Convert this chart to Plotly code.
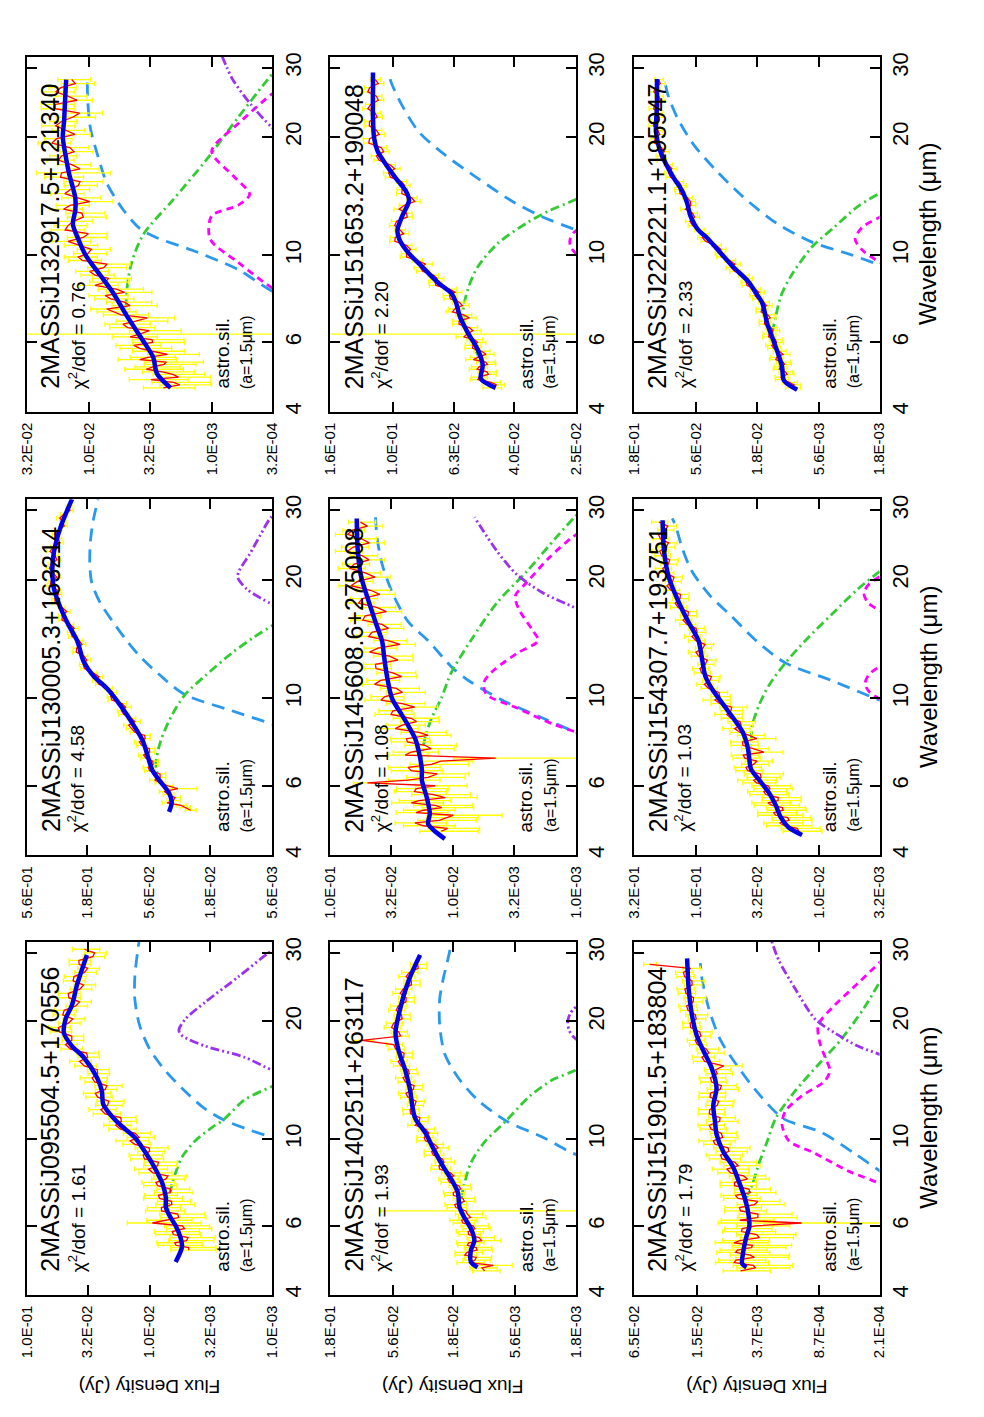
import math
import plotly.graph_objects as go

FONT = "Liberation Sans, Arial, Helvetica, sans-serif"

# wavelength grids of the IRS spectra (micron); *_2 are the interleaved samples
WL_GRID_A = [4.6, 4.75, 4.9, 5.05, 5.2, 5.35, 5.5, 5.7, 5.9, 6.1, 6.3,
             6.55, 6.8, 7.05, 7.3, 7.6, 7.9, 8.2, 8.55, 8.9, 9.3, 9.7,
             10.1, 10.6, 11.1, 11.6, 12.2, 12.8, 13.4, 14.0, 14.7, 15.4, 16.2,
             17.0, 17.9, 18.8, 19.8, 20.8, 21.9, 23.0, 24.2, 25.4, 26.7, 28.0]
WL_GRID_A2 = [4.68, 4.83, 4.98, 5.13, 5.28, 5.43, 5.6, 5.8, 6.0, 6.2, 6.43,
              6.68, 6.93, 7.18, 7.45, 7.75, 8.05, 8.38, 8.73, 9.1, 9.5, 9.9,
              10.35, 10.85, 11.35, 11.9, 12.5, 13.1, 13.7, 14.35, 15.05, 15.8, 16.6,
              17.45, 18.35, 19.3, 20.3, 21.35, 22.45, 23.6, 24.8, 26.05, 27.35]
WL_GRID_B = [5.2, 5.35, 5.5, 5.7, 5.9, 6.1, 6.3,
             6.55, 6.8, 7.05, 7.3, 7.6, 7.9, 8.2, 8.55, 8.9, 9.3, 9.7,
             10.1, 10.6, 11.1, 11.6, 12.2, 12.8, 13.4, 14.0, 14.7, 15.4, 16.2,
             17.0, 17.9, 18.8, 19.8, 20.8, 21.9, 23.0, 24.2, 25.4, 26.7, 28.0,
             29.3, 30.6]
WL_GRID_B2 = [5.28, 5.43, 5.6, 5.8, 6.0, 6.2, 6.43,
              6.68, 6.93, 7.18, 7.45, 7.75, 8.05, 8.38, 8.73, 9.1, 9.5, 9.9,
              10.35, 10.85, 11.35, 11.9, 12.5, 13.1, 13.7, 14.35, 15.05, 15.8, 16.6,
              17.45, 18.35, 19.3, 20.3, 21.35, 22.45, 23.6, 24.8, 26.05, 27.35,
              28.65, 29.95]

WL_TICKS = [4, 6, 10, 20, 30]
WL_RANGE = [4, 32]

# panel order: top row left->right, middle row, bottom row
NAMES = ["2MASSiJ132917.5+121340", "2MASSiJ151653.2+190048", "2MASSiJ222221.1+195947",
         "2MASSiJ130005.3+163214", "2MASSiJ145608.6+275008", "2MASSiJ154307.7+193751",
         "2MASSiJ095504.5+170556", "2MASSiJ1402511+263117", "2MASSiJ151901.5+183804"]
CHI2 = ["0.76", "2.20", "2.33", "4.58", "1.08", "1.03", "1.61", "1.93", "1.79"]

J1329_TICKS = ["3.2E-02", "1.0E-02", "3.2E-03", "1.0E-03", "3.2E-04"]
J1516_TICKS = ["1.6E-01", "1.0E-01", "6.3E-02", "4.0E-02", "2.5E-02"]
J2222_TICKS = ["1.8E-01", "5.6E-02", "1.8E-02", "5.6E-03", "1.8E-03"]
J1300_TICKS = ["5.6E-01", "1.8E-01", "5.6E-02", "1.8E-02", "5.6E-03"]
J1456_TICKS = ["1.0E-01", "3.2E-02", "1.0E-02", "3.2E-03", "1.0E-03"]
J1543_TICKS = ["3.2E-01", "1.0E-01", "3.2E-02", "1.0E-02", "3.2E-03"]
J0955_TICKS = ["1.0E-01", "3.2E-02", "1.0E-02", "3.2E-03", "1.0E-03"]
J1402_TICKS = ["1.8E-01", "5.6E-02", "1.8E-02", "5.6E-03", "1.8E-03"]
J1519_TICKS = ["6.5E-02", "1.5E-02", "3.7E-03", "8.7E-04", "2.1E-04"]

# ---- J132917.5+121340 (Jy)
J1329_FLUX = [2.48e-3, 2.04e-3, 1.86e-3, 2.52e-3, 3.01e-3, 2.34e-3, 3.29e-3, 3.04e-3, 4.31e-3, 3.06e-3, 3.85e-3,
              4.83e-3, 4.14e-3, 5.45e-3, 7.16e-3, 5.13e-3, 7.38e-3, 5.99e-3, 7.30e-3, 8.91e-3, 7.57e-3, 1.13e-2,
              1.02e-2, 1.21e-2, 1.11e-2, 1.56e-2, 1.34e-2, 1.14e-2, 1.42e-2, 1.23e-2, 1.41e-2, 1.18e-2, 1.67e-2,
              1.38e-2, 1.67e-2, 1.43e-2, 1.83e-2, 1.54e-2, 1.67e-2, 1.19e-2, 1.88e-2, 1.48e-2, 1.69e-2, 1.38e-2]
J1329_ERR = [0.45, 0.50, 0.45, 0.45, 0.40, 0.50, 0.40, 0.45, 0.40, 0.45, 8.0,
             0.40, 0.45, 0.40, 0.35, 0.40, 0.35, 0.40, 0.35, 0.30, 0.35, 0.30,
             0.30, 0.30, 0.35, 0.30, 0.30, 0.35, 0.30, 0.35, 0.30, 0.35, 0.60,
             0.30, 0.25, 0.30, 0.25, 0.30, 0.25, 0.35, 0.30, 0.30, 0.25, 0.30]
J1329_FLUX2 = [1.82e-3, 3.12e-3, 2.07e-3, 3.40e-3, 2.44e-3, 3.85e-3, 2.29e-3, 3.85e-3, 3.03e-3, 4.61e-3, 3.22e-3,
               5.28e-3, 3.34e-3, 6.35e-3, 4.62e-3, 6.63e-3, 5.12e-3, 8.92e-3, 6.93e-3, 9.86e-3, 7.11e-3, 1.22e-2,
               9.55e-3, 1.48e-2, 1.01e-2, 1.48e-2, 1.11e-2, 1.61e-2, 9.8e-3, 1.57e-2, 1.22e-2, 1.70e-2, 1.18e-2,
               1.76e-2, 1.32e-2, 2.0e-2, 1.30e-2, 1.86e-2, 1.36e-2, 1.88e-2, 1.25e-2, 1.86e-2, 1.29e-2]
J1329_ERR2 = [0.45, 0.50, 0.45, 0.50, 0.45, 0.50, 0.45, 0.45, 0.45, 0.40, 0.45,
              0.40, 0.40, 0.35, 0.40, 0.35, 0.40, 0.35, 0.35, 0.30, 0.35, 0.30,
              0.30, 0.35, 0.30, 0.30, 0.35, 0.30, 0.35, 0.30, 0.30, 0.35, 0.30,
              0.25, 0.30, 0.30, 0.25, 0.30, 0.35, 0.30, 0.25, 0.30, 0.30]
J1329_FIT = [(4.6, 2.16e-3), (5.0, 2.79e-3), (5.5, 2.99e-3), (6.0, 3.54e-3), (7.0, 4.89e-3), (8.0, 6.30e-3),
             (9.0, 8.30e-3), (10.0, 1.06e-2), (11.0, 1.22e-2), (12.0, 1.35e-2), (13.0, 1.29e-2), (14.0, 1.29e-2),
             (15.0, 1.36e-2), (16.0, 1.44e-2), (18.0, 1.55e-2), (20.0, 1.63e-2), (22.0, 1.59e-2), (24.0, 1.57e-2),
             (26.0, 1.55e-2), (28.0, 1.53e-2)]
J1329_COOL = [(7.8, 2.2e-4), (8.1, 3.2e-4), (9.2, 6.1e-4), (10.3, 1.44e-3), (11.1, 2.83e-3), (11.7, 3.85e-3),
              (13.0, 5.2e-3), (15.2, 7.1e-3), (18.0, 8.5e-3), (21.0, 9.7e-3), (24.6, 1.02e-2), (27.7, 1.03e-2)]
J1329_HOT = [(5.5, 3.0e-3), (6.3, 3.9e-3), (7.2, 4.9e-3), (9.3, 4.6e-3), (11.3, 3.6e-3), (13.8, 2.08e-3),
             (17.4, 1.12e-3), (22.4, 6.1e-4), (28.0, 3.5e-4), (30.0, 2.9e-4)]
J1329_MAG = [(8.0, 2.6e-4), (8.3, 3.3e-4), (9.6, 6.1e-4), (11.0, 1.03e-3), (12.6, 1.0e-3), (13.4, 6.1e-4),
             (14.3, 4.9e-4), (15.8, 6.5e-4), (18.4, 1.0e-3), (21.6, 6.1e-4), (25.6, 3.3e-4), (26.5, 2.8e-4)]
J1329_VIO = [(20.5, 2.8e-4), (21.3, 3.3e-4), (24.2, 4.8e-4), (27.9, 6.7e-4), (30.0, 7.5e-4), (32.0, 8.2e-4)]

# ---- J151653.2+190048
J1516_FLUX = [4.72e-2, 4.75e-2, 5.20e-2, 4.90e-2, 5.20e-2, 4.95e-2, 5.25e-2, 5.10e-2, 5.45e-2, 5.38e-2, 5.70e-2,
              5.60e-2, 6.05e-2, 5.85e-2, 6.25e-2, 6.05e-2, 6.50e-2, 6.50e-2, 7.25e-2, 7.35e-2, 8.10e-2, 8.30e-2,
              9.00e-2, 9.00e-2, 9.80e-2, 9.45e-2, 9.70e-2, 9.00e-2, 9.15e-2, 8.65e-2, 9.30e-2, 9.35e-2, 0.103,
              0.102, 0.113, 0.109, 0.119, 0.113, 0.119, 0.114, 0.118, 0.113, 0.119, 0.114]
J1516_ERR = [0.07, 0.07, 0.06, 0.07, 0.06, 0.07, 0.06, 0.06, 0.06, 0.06, 2.5,
             0.06, 0.05, 0.06, 0.05, 0.05, 0.05, 0.05, 0.05, 0.04, 0.05, 0.04,
             0.04, 0.04, 0.04, 0.04, 0.04, 0.04, 0.04, 0.04, 0.04, 0.04, 0.04,
             0.04, 0.04, 0.04, 0.05, 0.04, 0.04, 0.04, 0.04, 0.04, 0.04, 0.04]
J1516_FLUX2 = [4.56e-2, 5.25e-2, 4.85e-2, 5.28e-2, 4.88e-2, 5.43e-2, 4.94e-2, 5.46e-2, 5.26e-2, 5.84e-2, 5.45e-2,
               6.05e-2, 5.60e-2, 6.36e-2, 5.90e-2, 6.46e-2, 6.24e-2, 7.21e-2, 7.15e-2, 7.95e-2, 7.79e-2, 8.99e-2,
               8.73e-2, 9.83e-2, 9.20e-2, 9.84e-2, 8.95e-2, 9.52e-2, 8.46e-2, 9.33e-2, 9.13e-2, 0.1016, 9.84e-2,
               0.1107, 0.107, 0.1197, 0.1107, 0.1192, 0.1125, 0.1206, 0.1114, 0.1206, 0.1114]
J1516_ERR2 = [0.06, 0.06, 0.06, 0.06, 0.06, 0.06, 0.06, 0.06, 0.06, 0.06, 0.06,
              0.05, 0.05, 0.05, 0.05, 0.05, 0.05, 0.05, 0.05, 0.05, 0.05, 0.05,
              0.04, 0.04, 0.04, 0.04, 0.04, 0.04, 0.04, 0.04, 0.04, 0.04, 0.04,
              0.04, 0.04, 0.04, 0.04, 0.04, 0.04, 0.04, 0.04, 0.04, 0.04]
J1516_FIT = [(4.6, 4.59e-2), (4.85, 5.13e-2), (5.25, 5.06e-2), (5.75, 5.25e-2), (6.35, 5.66e-2), (7.0, 6.02e-2),
             (7.55, 6.18e-2), (8.0, 6.41e-2), (8.5, 7.07e-2), (9.35, 8.0e-2), (10.1, 8.83e-2), (11.0, 9.51e-2),
             (11.6, 9.64e-2), (12.6, 9.29e-2), (13.8, 8.83e-2), (14.6, 9.06e-2), (15.7, 9.75e-2), (17.0, 0.105),
             (18.4, 0.112), (19.9, 0.115), (22.4, 0.116), (26.2, 0.116), (29.2, 0.116)]
J1516_COOL = [(11.2, 2.2e-2), (11.6, 2.5e-2), (12.6, 3.28e-2), (13.8, 4.1e-2), (15.7, 5.25e-2), (18.0, 6.73e-2),
              (20.6, 8.2e-2), (24.0, 9.29e-2), (27.5, 0.101), (29.2, 0.103)]
J1516_HOT = [(5.5, 5.2e-2), (7.0, 5.87e-2), (8.2, 5.66e-2), (9.35, 5.25e-2), (10.7, 4.53e-2), (12.1, 3.62e-2),
             (13.0, 3.05e-2), (13.8, 2.54e-2), (14.6, 2.2e-2)]
J1516_MAG = [(9.7, 2.3e-2), (10.1, 2.5e-2), (10.5, 2.6e-2), (10.9, 2.62e-2), (11.4, 2.55e-2), (11.8, 2.4e-2)]
J1516_VIO = []

# ---- J222221.1+195947
J2222_FLUX = [9.2e-3, 9.8e-3, 1.14e-2, 1.05e-2, 1.16e-2, 1.10e-2, 1.24e-2, 1.18e-2, 1.36e-2, 1.27e-2, 1.43e-2,
              1.38e-2, 1.55e-2, 1.46e-2, 1.64e-2, 1.58e-2, 1.86e-2, 1.85e-2, 2.20e-2, 2.30e-2, 2.90e-2, 2.98e-2,
              3.60e-2, 3.85e-2, 5.00e-2, 5.30e-2, 6.30e-2, 6.00e-2, 6.20e-2, 6.60e-2, 7.70e-2, 7.80e-2, 9.40e-2,
              9.50e-2, 0.110, 0.108, 0.121, 0.115, 0.123, 0.114, 0.121, 0.113, 0.120, 0.113]
J2222_ERR = [0.14, 0.14, 0.12, 0.13, 0.12, 0.13, 0.12, 0.12, 0.12, 0.12, 0.12,
             0.11, 0.11, 0.11, 0.11, 0.10, 0.10, 0.10, 0.10, 0.10, 0.10, 0.10,
             0.09, 0.09, 0.09, 0.09, 0.09, 0.09, 0.09, 0.09, 0.09, 0.09, 0.08,
             0.08, 0.08, 0.08, 0.08, 0.08, 0.08, 0.08, 0.08, 0.08, 0.08, 0.08]
J2222_FLUX2 = [8.93e-3, 1.13e-2, 1.02e-2, 1.18e-2, 1.07e-2, 1.26e-2, 1.10e-2, 1.31e-2, 1.24e-2, 1.44e-2, 1.33e-2,
               1.56e-2, 1.40e-2, 1.66e-2, 1.50e-2, 1.77e-2, 1.73e-2, 2.16e-2, 2.16e-2, 2.71e-2, 2.72e-2, 3.47e-2,
               3.53e-2, 4.69e-2, 4.83e-2, 5.98e-2, 5.78e-2, 6.87e-2, 6.25e-2, 7.58e-2, 7.43e-2, 9.05e-2, 8.84e-2,
               0.107, 0.102, 0.1225, 0.111, 0.125, 0.1126, 0.1246, 0.110, 0.124, 0.110]
J2222_ERR2 = [0.12, 0.12, 0.12, 0.12, 0.12, 0.12, 0.12, 0.12, 0.12, 0.12, 0.12,
              0.10, 0.10, 0.10, 0.10, 0.10, 0.10, 0.10, 0.10, 0.10, 0.10, 0.10,
              0.09, 0.09, 0.09, 0.09, 0.09, 0.09, 0.09, 0.09, 0.09, 0.09, 0.09,
              0.09, 0.09, 0.09, 0.09, 0.09, 0.09, 0.09, 0.09, 0.09, 0.09]
J2222_FIT = [(4.55, 8.45e-3), (4.8, 1.08e-2), (5.2, 1.12e-2), (5.55, 1.19e-2), (6.2, 1.35e-2), (6.7, 1.48e-2),
             (7.55, 1.62e-2), (8.0, 1.82e-2), (8.6, 2.13e-2), (9.35, 2.81e-2), (10.3, 3.71e-2), (11.1, 4.6e-2),
             (11.6, 5.4e-2), (12.6, 6.24e-2), (13.6, 6.65e-2), (14.6, 7.3e-2), (15.7, 8.5e-2), (17.1, 9.9e-2),
             (18.7, 0.112), (20.6, 0.119), (24.1, 0.117), (28.1, 0.117)]
J2222_COOL = [(9.2, 1.4e-3), (9.45, 1.8e-3), (10.1, 3.27e-3), (10.8, 6.4e-3), (12.1, 1.26e-2), (14.1, 2.34e-2),
              (16.4, 3.83e-2), (19.1, 5.87e-2), (22.4, 8.0e-2), (25.8, 9.6e-2), (28.3, 0.102)]
J2222_HOT = [(6.35, 1.35e-2), (7.0, 1.26e-2), (7.85, 1.15e-2), (8.8, 9.6e-3), (10.5, 6.4e-3), (11.8, 4.2e-3),
             (13.3, 2.72e-3), (14.4, 1.8e-3), (15.0, 1.5e-3)]
J2222_MAG = [(9.4, 1.6e-3), (9.6, 1.8e-3), (10.3, 2.48e-3), (11.0, 2.85e-3), (11.8, 2.48e-3), (12.5, 1.8e-3),
             (12.8, 1.6e-3)]
J2222_VIO = []

# ---- J130005.3+163214
J1300_FLUX = [2.6e-2, 3.1e-2, 3.6e-2, 3.95e-2, 3.3e-2, 4.6e-2, 4.6e-2,
              5.6e-2, 5.25e-2, 6.0e-2, 5.6e-2, 6.5e-2, 6.1e-2, 7.4e-2, 8.3e-2, 7.9e-2, 9.5e-2, 9.4e-2,
              0.116, 0.121, 0.153, 0.162, 0.195, 0.192, 0.220, 0.210, 0.245, 0.250, 0.288,
              0.290, 0.330, 0.315, 0.355, 0.340, 0.355, 0.330, 0.340, 0.310, 0.310, 0.285,
              0.280, 0.255]
J1300_ERR = [0.10, 0.10, 0.12, 0.10, 0.30, 0.10, 0.10,
             0.10, 0.09, 0.10, 0.09, 0.10, 0.09, 0.09, 0.10, 0.08, 0.08, 0.08,
             0.07, 0.07, 0.07, 0.07, 0.07, 0.07, 0.07, 0.07, 0.07, 0.07, 0.07,
             0.06, 0.06, 0.06, 0.06, 0.06, 0.06, 0.06, 0.06, 0.06, 0.06, 0.06,
             0.06, 0.06]
J1300_FLUX2 = [2.9e-2, 4.03e-2, 3.48e-2, 4.25e-2, 4.0e-2, 5.09e-2, 4.61e-2,
               5.75e-2, 5.28e-2, 6.26e-2, 5.63e-2, 6.79e-2, 6.14e-2, 7.88e-2, 7.39e-2, 9.08e-2, 8.79e-2, 0.1139,
               0.1116, 0.1442, 0.1449, 0.190, 0.1819, 0.2214, 0.199, 0.2389, 0.2302, 0.2894, 0.265,
               0.3296, 0.3097, 0.3617, 0.3199, 0.3668, 0.319, 0.3618, 0.3013, 0.3286, 0.2782,
               0.3017, 0.2492]
J1300_ERR2 = [0.10, 0.10, 0.10, 0.10, 0.10, 0.10, 0.10,
              0.10, 0.10, 0.10, 0.10, 0.10, 0.10, 0.10, 0.10, 0.10, 0.10, 0.07,
              0.07, 0.07, 0.07, 0.07, 0.07, 0.07, 0.07, 0.07, 0.07, 0.06, 0.06,
              0.06, 0.06, 0.06, 0.06, 0.06, 0.06, 0.06, 0.06, 0.06, 0.06,
              0.06, 0.06]
J1300_FIT = [(5.15, 3.89e-2), (5.45, 3.7e-2), (5.75, 3.89e-2), (6.2, 4.68e-2), (6.55, 5.3e-2), (6.9, 5.62e-2),
             (7.8, 6.37e-2), (8.6, 7.66e-2), (9.65, 9.82e-2), (10.6, 0.125), (11.4, 0.161), (12.4, 0.193),
             (14.0, 0.218), (15.3, 0.255), (16.9, 0.296), (18.9, 0.336), (21.4, 0.347), (23.6, 0.336),
             (27.3, 0.296), (32.0, 0.24)]
J1300_COOL = [(8.4, 4.5e-3), (8.6, 5.6e-3), (9.3, 1.2e-2), (10.25, 2.95e-2), (11.3, 4.4e-2), (12.7, 6.6e-2),
              (14.0, 8.6e-2), (15.6, 0.111), (17.5, 0.142), (19.7, 0.166), (22.0, 0.172), (25.0, 0.17),
              (28.3, 0.161), (32.0, 0.147)]
J1300_HOT = [(6.0, 4.4e-2), (6.7, 4.99e-2), (7.8, 4.55e-2), (9.1, 3.66e-2), (10.25, 2.86e-2), (11.4, 1.98e-2),
             (13.0, 1.21e-2), (14.3, 7.9e-3), (15.3, 5.6e-3), (15.8, 4.8e-3)]
J1300_MAG = []
J1300_VIO = [(17.0, 4.8e-3), (17.4, 5.8e-3), (18.9, 9.0e-3), (20.2, 1.07e-2), (21.0, 1.05e-2), (23.2, 8.6e-3),
             (26.0, 7.0e-3), (28.7, 5.8e-3), (30.0, 4.8e-3)]

# ---- J145608.6+275008
J1456_FLUX = [1.25e-2, 1.75e-2, 1.3e-2, 1.0e-2, 1.75e-2, 1.4e-2, 1.9e-2, 1.45e-2, 2.0e-2, 5.0e-2, 1.6e-2,
              2.2e-2, 1.5e-2, 4.5e-3, 2.2e-2, 1.7e-2, 2.4e-2, 1.9e-2, 2.6e-2, 2.2e-2, 3.1e-2, 2.6e-2,
              3.6e-2, 2.9e-2, 3.9e-2, 3.1e-2, 4.3e-2, 3.3e-2, 4.1e-2, 3.4e-2, 4.6e-2, 3.8e-2, 5.2e-2,
              4.2e-2, 5.5e-2, 4.7e-2, 6.0e-2, 5.2e-2, 6.4e-2, 5.5e-2, 6.5e-2, 5.6e-2, 6.6e-2, 5.7e-2]
J1456_ERR = [0.50, 0.45, 0.50, 0.60, 0.45, 0.50, 0.45, 0.50, 0.45, 0.30, 0.50,
             0.45, 0.50, 1.20, 0.40, 0.45, 0.35, 0.40, 0.35, 0.40, 0.30, 0.35,
             0.30, 0.35, 0.30, 0.35, 0.25, 0.35, 0.30, 0.30, 0.25, 0.30, 0.25,
             0.30, 0.25, 0.30, 0.25, 0.25, 0.25, 0.25, 0.25, 0.25, 0.20, 0.25]
J1456_FLUX2 = [1.11e-2, 2.05e-2, 1.14e-2, 2.01e-2, 1.24e-2, 2.19e-2, 1.16e-2, 2.07e-2, 1.40e-2, 2.33e-2, 1.35e-2,
               2.33e-2, 1.26e-2, 2.46e-2, 1.51e-2, 2.36e-2, 1.60e-2, 2.97e-2, 1.99e-2, 3.21e-2, 2.06e-2, 3.88e-2,
               2.59e-2, 4.37e-2, 2.63e-2, 4.25e-2, 2.82e-2, 4.80e-2, 2.71e-2, 4.88e-2, 3.37e-2, 5.45e-2, 3.50e-2,
               5.89e-2, 3.96e-2, 6.81e-2, 4.34e-2, 6.92e-2, 4.84e-2, 7.28e-2, 4.82e-2, 7.27e-2, 4.99e-2]
J1456_ERR2 = [0.45, 0.45, 0.45, 0.45, 0.45, 0.45, 0.45, 0.45, 0.45, 0.45, 0.45,
              0.45, 0.45, 0.35, 0.35, 0.35, 0.35, 0.35, 0.35, 0.35, 0.35, 0.35,
              0.35, 0.25, 0.25, 0.25, 0.25, 0.25, 0.25, 0.25, 0.25, 0.25, 0.25,
              0.25, 0.25, 0.25, 0.25, 0.25, 0.25, 0.25, 0.25, 0.25, 0.25]
J1456_FIT = [(4.4, 1.17e-2), (4.6, 1.41e-2), (4.8, 1.6e-2), (5.1, 1.55e-2), (5.6, 1.64e-2), (6.2, 1.8e-2),
             (6.6, 1.8e-2), (7.4, 1.92e-2), (7.9, 2.04e-2), (8.5, 2.31e-2), (9.2, 2.69e-2), (10.0, 3.15e-2),
             (11.3, 3.45e-2), (12.8, 3.66e-2), (13.9, 3.78e-2), (15.6, 4.29e-2), (18.0, 4.99e-2), (20.5, 5.65e-2),
             (24.0, 6.0e-2), (28.6, 6.1e-2)]
J1456_COOL = [(8.0, 8e-4), (8.2, 1.0e-3), (8.9, 1.85e-3), (9.85, 3.87e-3), (11.0, 7.2e-3), (11.9, 1.0e-2),
              (14.0, 1.6e-2), (15.6, 2.31e-2), (18.2, 3.05e-2), (21.8, 3.78e-2), (25.3, 4.15e-2), (28.8, 4.29e-2)]
J1456_HOT = [(6.8, 1.86e-2), (7.9, 1.7e-2), (8.9, 1.5e-2), (10.0, 1.25e-2), (11.6, 1.04e-2), (14.0, 7.2e-3),
             (17.5, 4.39e-3), (21.0, 2.51e-3), (25.6, 1.45e-3), (28.8, 1.03e-3), (30.0, 9e-4)]
J1456_MAG = [(8.0, 8.5e-4), (8.2, 1.0e-3), (8.6, 1.54e-3), (9.45, 3.03e-3), (10.25, 5.4e-3), (11.0, 5.6e-3),
             (11.7, 4.8e-3), (13.0, 3.03e-3), (14.0, 2.03e-3), (14.8, 2.23e-3), (16.9, 2.94e-3), (18.2, 3.12e-3),
             (19.7, 2.51e-3), (22.8, 1.64e-3), (25.7, 1.06e-3), (26.5, 9e-4)]
J1456_VIO = [(16.5, 8.5e-4), (17.0, 1.03e-3), (18.5, 1.85e-3), (20.6, 3.03e-3), (23.6, 4.39e-3), (28.8, 6.7e-3)]

# ---- J154307.7+193751
J1543_FLUX = [1.45e-2, 1.9e-2, 1.75e-2, 2.25e-2, 1.95e-2, 2.4e-2, 2.15e-2, 2.7e-2, 2.5e-2, 3.2e-2, 2.95e-2,
              3.8e-2, 3.4e-2, 4.0e-2, 2.8e-2, 4.15e-2, 3.2e-2, 4.4e-2, 4.3e-2, 5.2e-2, 5.2e-2, 6.4e-2,
              6.4e-2, 7.9e-2, 7.7e-2, 9.0e-2, 8.4e-2, 9.5e-2, 8.8e-2, 0.100, 9.8e-2, 0.118, 0.116,
              0.140, 0.135, 0.160, 0.155, 0.178, 0.168, 0.190, 0.175, 0.195, 0.178, 0.200]
J1543_ERR = [0.35, 0.40, 0.35, 0.40, 0.35, 0.40, 0.35, 0.35, 0.35, 0.30, 0.30,
             0.25, 0.25, 0.25, 0.30, 0.25, 0.30, 0.20, 0.20, 0.20, 0.20, 0.18,
             0.18, 0.15, 0.15, 0.15, 0.15, 0.15, 0.15, 0.15, 0.15, 0.15, 0.15,
             0.15, 0.15, 0.15, 0.15, 0.15, 0.15, 0.15, 0.15, 0.15, 0.15, 0.15]
J1543_FLUX2 = [1.50e-2, 2.08e-2, 1.79e-2, 2.33e-2, 1.98e-2, 2.60e-2, 2.14e-2, 2.81e-2, 2.59e-2, 3.39e-2, 2.99e-2,
               3.92e-2, 3.18e-2, 4.13e-2, 3.40e-2, 4.18e-2, 3.67e-2, 4.85e-2, 4.39e-2, 5.62e-2, 5.12e-2, 7.01e-2,
               6.51e-2, 8.56e-2, 7.49e-2, 9.28e-2, 8.10e-2, 0.1003, 8.45e-2, 0.1079, 0.100, 0.1275, 0.1156,
               0.148, 0.1338, 0.1727, 0.1511, 0.1868, 0.1638, 0.1978, 0.1674, 0.2022, 0.1697]
J1543_ERR2 = [0.35, 0.35, 0.35, 0.35, 0.35, 0.35, 0.35, 0.35, 0.35, 0.35, 0.35,
              0.25, 0.25, 0.25, 0.25, 0.25, 0.25, 0.25, 0.25, 0.25, 0.25, 0.25,
              0.15, 0.15, 0.15, 0.15, 0.15, 0.15, 0.15, 0.15, 0.15, 0.15, 0.15,
              0.15, 0.15, 0.15, 0.15, 0.15, 0.15, 0.15, 0.15, 0.15, 0.15]
J1543_FIT = [(4.5, 1.37e-2), (4.7, 1.76e-2), (5.0, 2.05e-2), (5.35, 2.24e-2), (5.75, 2.54e-2), (6.2, 3.05e-2),
             (6.6, 3.56e-2), (6.95, 3.67e-2), (7.5, 3.79e-2), (8.2, 4.16e-2), (8.8, 4.84e-2), (9.65, 6.01e-2),
             (10.6, 7.46e-2), (11.4, 8.41e-2), (12.7, 8.97e-2), (14.0, 9.53e-2), (15.6, 0.115), (17.5, 0.138),
             (20.2, 0.166), (23.6, 0.182), (28.3, 0.187)]
J1543_COOL = [(9.7, 2.7e-3), (9.95, 3.35e-3), (11.1, 7.9e-3), (12.3, 1.87e-2), (14.0, 3.24e-2), (16.3, 5.3e-2),
              (18.2, 7.67e-2), (21.0, 0.108), (24.1, 0.13), (27.3, 0.146), (28.6, 0.156)]
J1543_HOT = [(7.0, 3.67e-2), (7.8, 3.56e-2), (8.6, 3.46e-2), (9.65, 3.05e-2), (10.8, 2.54e-2), (12.3, 1.87e-2),
             (14.0, 1.29e-2), (16.3, 7.9e-3), (18.9, 4.84e-3), (21.0, 3.2e-3), (22.0, 2.7e-3)]
J1543_MAG = [(9.6, 2.6e-3), (9.9, 3.1e-3), (10.4, 3.9e-3), (10.9, 4.2e-3), (11.5, 3.9e-3), (12.2, 3.0e-3),
             (13.5, 2.0e-3), (15.3, 2.1e-3), (16.5, 3.0e-3), (17.5, 4.0e-3), (18.5, 4.3e-3), (19.5, 3.9e-3),
             (20.5, 3.1e-3), (22.0, 2.2e-3)]
J1543_VIO = []

# ---- J095504.5+170556
J0955_FLUX = [4.8e-3, 6.1e-3, 5.0e-3, 6.4e-3, 5.2e-3, 9.5e-3, 5.8e-3,
              8.0e-3, 6.6e-3, 8.3e-3, 6.8e-3, 8.6e-3, 7.4e-3, 9.4e-3, 8.6e-3, 1.1e-2, 1.0e-2, 1.32e-2,
              1.22e-2, 1.72e-2, 1.7e-2, 2.3e-2, 2.2e-2, 2.65e-2, 2.3e-2, 2.8e-2, 2.65e-2, 3.4e-2, 3.2e-2,
              4.4e-2, 4.3e-2, 5.4e-2, 4.6e-2, 5.1e-2, 4.0e-2, 4.55e-2, 3.7e-2, 4.2e-2, 3.4e-2, 3.75e-2,
              2.9e-2, 3.4e-2]
J0955_ERR = [0.40, 0.40, 0.40, 0.40, 0.40, 0.60, 0.40,
             0.35, 0.35, 0.35, 0.35, 0.30, 0.30, 0.30, 0.30, 0.30, 0.25, 0.25,
             0.25, 0.25, 0.25, 0.25, 0.25, 0.25, 0.20, 0.20, 0.20, 0.20, 0.20,
             0.20, 0.20, 0.20, 0.20, 0.20, 0.20, 0.20, 0.20, 0.20, 0.20, 0.20,
             0.20, 0.25]
J0955_FLUX2 = [4.81e-3, 6.24e-3, 4.87e-3, 6.55e-3, 5.41e-3, 7.54e-3, 5.91e-3,
               8.02e-3, 6.64e-3, 8.48e-3, 6.73e-3, 8.90e-3, 7.10e-3, 1.02e-2, 8.49e-3, 1.13e-2, 1.01e-2, 1.45e-2,
               1.31e-2, 1.89e-2, 1.72e-2, 2.50e-2, 2.15e-2, 2.77e-2, 2.23e-2, 2.94e-2, 2.67e-2, 3.73e-2, 3.26e-2,
               4.85e-2, 4.31e-2, 5.53e-2, 4.22e-2, 4.96e-2, 3.73e-2, 4.60e-2, 3.45e-2, 4.13e-2, 3.20e-2,
               3.77e-2, 2.81e-2]
J0955_ERR2 = [0.40, 0.40, 0.40, 0.40, 0.40, 0.40, 0.40,
              0.30, 0.30, 0.30, 0.30, 0.30, 0.30, 0.30, 0.30, 0.30, 0.30, 0.30,
              0.25, 0.25, 0.25, 0.25, 0.25, 0.25, 0.25, 0.25, 0.20, 0.20, 0.20,
              0.20, 0.20, 0.20, 0.20, 0.20, 0.20, 0.20, 0.20, 0.20, 0.20,
              0.20, 0.20]
J0955_FIT = [(4.85, 6.14e-3), (5.3, 5.45e-3), (5.6, 5.6e-3), (6.0, 6.14e-3), (6.4, 6.95e-3), (6.7, 7.38e-3),
             (7.1, 7.38e-3), (7.7, 7.87e-3), (8.35, 8.91e-3), (9.2, 1.07e-2), (10.1, 1.32e-2), (10.9, 1.75e-2),
             (11.6, 2.11e-2), (12.3, 2.39e-2), (13.3, 2.45e-2), (14.4, 2.69e-2), (16.2, 3.45e-2), (17.3, 4.29e-2),
             (18.7, 4.99e-2), (20.3, 4.83e-2), (22.0, 4.29e-2), (24.9, 3.89e-2), (29.6, 3.24e-2)]
J0955_COOL = [(9.9, 8e-4), (10.1, 1.0e-3), (10.6, 1.6e-3), (11.2, 2.5e-3), (12.0, 3.6e-3), (13.3, 5.2e-3),
              (15.0, 7.5e-3), (17.0, 1.0e-2), (19.6, 1.21e-2), (22.8, 1.32e-2), (26.1, 1.32e-2), (30.3, 1.25e-2),
              (32.0, 1.22e-2)]
J0955_HOT = [(6.5, 7.1e-3), (7.0, 6.95e-3), (7.7, 6.55e-3), (9.0, 5.45e-3), (9.9, 4.25e-3), (10.7, 3.12e-3),
             (11.2, 2.51e-3), (12.6, 1.69e-3), (13.6, 1.03e-3), (14.0, 8.5e-4)]
J0955_MAG = []
J0955_VIO = [(14.8, 8.5e-4), (15.0, 1.0e-3), (16.2, 1.69e-3), (17.3, 3.53e-3), (18.4, 5.45e-3), (19.0, 5.78e-3),
             (20.3, 5.1e-3), (22.4, 3.53e-3), (26.0, 1.9e-3), (29.8, 1.1e-3), (31.0, 9e-4)]

# ---- J1402511+263117
J1402_FLUX = [1.0e-2, 8.5e-3, 1.2e-2, 1.45e-2, 1.15e-2, 1.38e-2, 1.05e-2, 1.35e-2, 1.2e-2, 1.5e-2, 1.3e-2,
              1.42e-2, 1.75e-2, 1.5e-2, 1.8e-2, 1.62e-2, 2.0e-2, 1.9e-2, 2.35e-2, 2.2e-2, 2.7e-2, 2.55e-2,
              3.1e-2, 3.0e-2, 3.4e-2, 4.0e-2, 3.7e-2, 4.2e-2, 3.8e-2, 4.4e-2, 4.1e-2, 4.8e-2, 4.55e-2,
              5.3e-2, 1.0e-1, 5.0e-2, 5.5e-2, 4.75e-2, 5.05e-2, 4.35e-2, 4.6e-2, 3.95e-2, 4.1e-2, 3.5e-2]
J1402_ERR = [0.25, 0.30, 0.25, 0.20, 0.25, 0.20, 0.30, 0.20, 0.25, 0.20, 0.25,
             4.00, 0.20, 0.20, 0.20, 0.20, 0.18, 0.18, 0.15, 0.15, 0.15, 0.15,
             0.15, 0.15, 0.15, 0.15, 0.15, 0.15, 0.15, 0.15, 0.15, 0.15, 0.15,
             0.15, 0.20, 0.15, 0.15, 0.15, 0.15, 0.15, 0.15, 0.15, 0.15, 0.15]
J1402_FLUX2 = [1.05e-2, 1.34e-2, 1.17e-2, 1.39e-2, 1.17e-2, 1.35e-2, 1.11e-2, 1.36e-2, 1.24e-2, 1.54e-2, 1.38e-2,
               1.71e-2, 1.46e-2, 1.79e-2, 1.56e-2, 1.92e-2, 1.78e-2, 2.32e-2, 2.14e-2, 2.62e-2, 2.39e-2, 3.03e-2,
               2.84e-2, 3.67e-2, 3.36e-2, 4.04e-2, 3.61e-2, 4.37e-2, 3.75e-2, 4.61e-2, 4.18e-2, 5.04e-2, 4.53e-2,
               5.48e-2, 4.83e-2, 5.72e-2, 4.69e-2, 5.24e-2, 4.37e-2, 4.86e-2, 3.94e-2, 4.35e-2, 3.47e-2]
J1402_ERR2 = [0.25, 0.25, 0.25, 0.25, 0.25, 0.25, 0.25, 0.25, 0.25, 0.25, 0.25,
              0.18, 0.18, 0.18, 0.18, 0.18, 0.18, 0.18, 0.18, 0.18, 0.18, 0.18,
              0.15, 0.15, 0.15, 0.15, 0.15, 0.15, 0.15, 0.15, 0.15, 0.15, 0.15,
              0.15, 0.15, 0.15, 0.15, 0.15, 0.15, 0.15, 0.15, 0.15, 0.15]
J1402_FIT = [(4.7, 1.14e-2), (4.85, 1.29e-2), (5.2, 1.29e-2), (5.5, 1.21e-2), (5.9, 1.29e-2), (6.3, 1.46e-2),
             (6.7, 1.6e-2), (7.3, 1.65e-2), (7.9, 1.87e-2), (8.5, 2.17e-2), (9.3, 2.54e-2), (10.4, 3.05e-2),
             (11.3, 3.67e-2), (12.3, 3.9e-2), (13.3, 4.03e-2), (15.0, 4.42e-2), (16.8, 5.0e-2), (18.7, 5.31e-2),
             (20.8, 5.0e-2), (25.4, 4.16e-2), (29.6, 3.35e-2)]
J1402_COOL = [(9.0, 1.5e-3), (9.2, 1.91e-3), (10.1, 3.33e-3), (11.1, 6.56e-3), (12.6, 1.14e-2), (14.4, 1.65e-2),
              (16.5, 2.11e-2), (19.6, 2.32e-2), (22.8, 2.32e-2), (25.7, 2.17e-2), (29.0, 1.98e-2), (32.0, 1.85e-2)]
J1402_HOT = [(6.3, 1.46e-2), (6.9, 1.55e-2), (7.7, 1.46e-2), (8.7, 1.29e-2), (9.8, 1.01e-2), (11.1, 6.75e-3),
             (12.9, 4.26e-3), (14.2, 2.77e-3), (15.0, 1.82e-3), (15.4, 1.6e-3)]
J1402_MAG = []
J1402_VIO = [(17.8, 1.7e-3), (18.3, 1.9e-3), (19.0, 2.05e-3), (20.0, 2.1e-3), (21.0, 2.0e-3), (21.8, 1.8e-3)]

# ---- J151901.5+183804
J1519_FLUX = [5.4e-3, 4.0e-3, 6.0e-3, 4.3e-3, 5.8e-3, 4.1e-3, 5.5e-3, 3.7e-3, 5.2e-3, 1.3e-3, 3.6e-3,
              5.4e-3, 3.9e-3, 5.7e-3, 4.3e-3, 6.2e-3, 4.6e-3, 6.8e-3, 5.7e-3, 8.3e-3, 7.1e-3, 9.8e-3,
              8.2e-3, 1.07e-2, 8.8e-3, 1.12e-2, 9.3e-3, 1.1e-2, 8.7e-3, 1.06e-2, 9.3e-3, 8.0e-3, 1.33e-2,
              1.2e-2, 1.56e-2, 1.4e-2, 1.75e-2, 1.55e-2, 1.9e-2, 1.62e-2, 1.98e-2, 1.68e-2, 2.05e-2, 4.5e-2]
J1519_ERR = [0.50, 0.60, 0.50, 0.60, 0.50, 0.60, 0.50, 0.60, 0.50, 6.00, 0.60,
             0.45, 0.50, 0.40, 0.45, 0.40, 0.40, 0.35, 0.40, 0.35, 0.35, 0.30,
             0.30, 0.30, 0.35, 0.30, 0.30, 0.30, 0.35, 0.30, 0.30, 0.35, 0.25,
             0.25, 0.20, 0.25, 0.20, 0.25, 0.20, 0.25, 0.20, 0.25, 0.20, 0.15]
J1519_FLUX2 = [3.80e-3, 6.26e-3, 3.91e-3, 6.06e-3, 4.16e-3, 6.30e-3, 3.49e-3, 5.28e-3, 3.80e-3, 5.48e-3, 3.60e-3,
               5.54e-3, 3.60e-3, 6.10e-3, 4.46e-3, 6.22e-3, 5.02e-3, 7.46e-3, 6.21e-3, 8.62e-3, 7.22e-3, 1.02e-2,
               8.46e-3, 1.12e-2, 8.71e-3, 1.11e-2, 9.00e-3, 1.09e-2, 8.45e-3, 1.09e-2, 9.66e-3, 1.25e-2, 1.13e-2,
               1.48e-2, 1.36e-2, 1.73e-2, 1.52e-2, 1.84e-2, 1.63e-2, 1.93e-2, 1.67e-2, 1.99e-2, 1.73e-2]
J1519_ERR2 = [0.55, 0.55, 0.55, 0.55, 0.55, 0.55, 0.55, 0.55, 0.55, 0.55, 0.55,
              0.40, 0.40, 0.40, 0.40, 0.40, 0.40, 0.40, 0.40, 0.40, 0.40, 0.40,
              0.30, 0.30, 0.30, 0.30, 0.30, 0.30, 0.30, 0.30, 0.30, 0.30, 0.30,
              0.20, 0.20, 0.20, 0.20, 0.20, 0.20, 0.20, 0.20, 0.20, 0.20]
J1519_FIT = [(4.7, 4.7e-3), (4.8, 5.2e-3), (5.1, 5.1e-3), (5.6, 4.73e-3), (6.0, 4.39e-3), (6.6, 4.57e-3),
             (7.1, 4.92e-3), (7.7, 5.52e-3), (8.5, 6.44e-3), (9.3, 8.1e-3), (10.3, 9.46e-3), (11.1, 9.8e-3),
             (12.2, 1.02e-2), (13.5, 9.46e-3), (15.2, 1.06e-2), (16.8, 1.28e-2), (18.4, 1.5e-2), (20.8, 1.68e-2),
             (24.2, 1.81e-2), (29.0, 1.88e-2)]
J1519_COOL = [(8.1, 1.8e-4), (8.3, 2.1e-4), (9.2, 3.8e-4), (10.4, 8.1e-4), (11.3, 2.0e-3), (13.3, 3.76e-3),
              (15.5, 5.94e-3), (18.0, 8.7e-3), (21.7, 1.14e-2), (25.8, 1.33e-2), (28.2, 1.38e-2)]
J1519_HOT = [(7.0, 4.8e-3), (7.7, 4.07e-3), (8.7, 3.49e-3), (9.9, 2.88e-3), (11.3, 2.38e-3), (13.3, 1.5e-3),
             (15.5, 8.8e-4), (18.0, 5.14e-4), (21.7, 3.0e-4), (25.0, 2.13e-4), (26.5, 1.8e-4)]
J1519_MAG = [(7.5, 1.8e-4), (7.7, 2.1e-4), (8.3, 4.43e-4), (9.2, 9.5e-4), (9.9, 1.75e-3), (10.9, 2.05e-3),
             (11.8, 1.89e-3), (12.9, 1.29e-3), (14.1, 7.5e-4), (15.0, 6.7e-4), (16.2, 7.5e-4), (17.7, 8.5e-4),
             (19.6, 8.8e-4), (22.0, 6.0e-4), (25.0, 3.5e-4), (28.2, 2.13e-4), (29.0, 1.9e-4)]
J1519_VIO = [(16.3, 1.9e-4), (16.5, 2.13e-4), (17.3, 3.5e-4), (18.7, 6.0e-4), (20.3, 9.5e-4), (24.2, 1.5e-3),
             (28.6, 2.2e-3), (32.0, 2.6e-3)]


def panel(ticks, wl, wl2, flux, flux2, err, err2, fit, cool, hot, mag, vio):
    # merge the two interleaved samplings into one spectrum ordered in wavelength
    rows = sorted(list(zip(wl, flux, err)) + list(zip(wl2, flux2, err2)))
    return dict(ticks=ticks, wl=[r[0] for r in rows], flux=[r[1] for r in rows],
                err=[r[2] for r in rows], fit=fit, cool=cool, hot=hot, mag=mag, vio=vio)


PANELS = [
    panel(J1329_TICKS, WL_GRID_A, WL_GRID_A2, J1329_FLUX, J1329_FLUX2, J1329_ERR, J1329_ERR2,
          J1329_FIT, J1329_COOL, J1329_HOT, J1329_MAG, J1329_VIO),
    panel(J1516_TICKS, WL_GRID_A, WL_GRID_A2, J1516_FLUX, J1516_FLUX2, J1516_ERR, J1516_ERR2,
          J1516_FIT, J1516_COOL, J1516_HOT, J1516_MAG, J1516_VIO),
    panel(J2222_TICKS, WL_GRID_A, WL_GRID_A2, J2222_FLUX, J2222_FLUX2, J2222_ERR, J2222_ERR2,
          J2222_FIT, J2222_COOL, J2222_HOT, J2222_MAG, J2222_VIO),
    panel(J1300_TICKS, WL_GRID_B, WL_GRID_B2, J1300_FLUX, J1300_FLUX2, J1300_ERR, J1300_ERR2,
          J1300_FIT, J1300_COOL, J1300_HOT, J1300_MAG, J1300_VIO),
    panel(J1456_TICKS, WL_GRID_A, WL_GRID_A2, J1456_FLUX, J1456_FLUX2, J1456_ERR, J1456_ERR2,
          J1456_FIT, J1456_COOL, J1456_HOT, J1456_MAG, J1456_VIO),
    panel(J1543_TICKS, WL_GRID_A, WL_GRID_A2, J1543_FLUX, J1543_FLUX2, J1543_ERR, J1543_ERR2,
          J1543_FIT, J1543_COOL, J1543_HOT, J1543_MAG, J1543_VIO),
    panel(J0955_TICKS, WL_GRID_B, WL_GRID_B2, J0955_FLUX, J0955_FLUX2, J0955_ERR, J0955_ERR2,
          J0955_FIT, J0955_COOL, J0955_HOT, J0955_MAG, J0955_VIO),
    panel(J1402_TICKS, WL_GRID_A, WL_GRID_A2, J1402_FLUX, J1402_FLUX2, J1402_ERR, J1402_ERR2,
          J1402_FIT, J1402_COOL, J1402_HOT, J1402_MAG, J1402_VIO),
    panel(J1519_TICKS, WL_GRID_A, WL_GRID_A2, J1519_FLUX, J1519_FLUX2, J1519_ERR, J1519_ERR2,
          J1519_FIT, J1519_COOL, J1519_HOT, J1519_MAG, J1519_VIO),
]

# page geometry in screen pixels; the html body adds an 8px margin round the figure
PAGE_W, PAGE_H = 984, 1417
BODY = 8
W, H = PAGE_W - 2 * BODY, PAGE_H - 2 * BODY
COL_X = [(18, 268), (327, 577), (636, 886)]
ROW_Y = [(52, 409), (497, 855), (942, 1297)]


def px(x):
    return (x - BODY) / W


def py(y):
    return 1 - (y - BODY) / H


COMPONENTS = [
    ("cool", "#2b98f0", "13px,8px"),
    ("hot", "#33cc33", "9px,4px,2px,4px"),
    ("mag", "#ff00ff", "7px,5px"),
    ("vio", "#9a32f0", "9px,3px,2px,3px,2px,3px"),
]

fig = go.Figure()
layout = {}
annotations = []

for i, p in enumerate(PANELS):
    n = i + 1
    r, c = divmod(i, 3)
    xa = "x" if n == 1 else f"x{n}"
    ya = "y" if n == 1 else f"y{n}"

    # model components
    for key, color, dash in COMPONENTS:
        pts = p[key]
        if not pts:
            continue
        fig.add_trace(go.Scatter(
            x=[f for _, f in pts], y=[w for w, _ in pts], mode="lines",
            line=dict(color=color, width=2.8, dash=dash, shape="spline", smoothing=0.8),
            xaxis=xa, yaxis=ya, hoverinfo="skip"))

    # observed spectrum + yellow error bars
    plus = [f * e for f, e in zip(p["flux"], p["err"])]
    minus = [min(f * e, 0.995 * f) for f, e in zip(p["flux"], p["err"])]
    fig.add_trace(go.Scatter(
        x=p["flux"], y=p["wl"], mode="lines",
        line=dict(color="#ff0000", width=1.3),
        error_x=dict(type="data", array=plus, arrayminus=minus, color="#ffff00",
                     thickness=1.3, width=2.5),
        xaxis=xa, yaxis=ya, hoverinfo="skip"))

    # total fit
    fig.add_trace(go.Scatter(
        x=[f for _, f in p["fit"]], y=[w for w, _ in p["fit"]], mode="lines",
        line=dict(color="#0000e8", width=4.5, shape="spline", smoothing=0.8),
        xaxis=xa, yaxis=ya, hoverinfo="skip"))

    x0, x1 = COL_X[c]
    y0, y1 = ROW_Y[r]
    tickvals = [float(t) for t in p["ticks"]]
    common = dict(type="log", showgrid=False, zeroline=False, showline=True,
                  linecolor="black", linewidth=2, mirror="ticks", ticks="inside",
                  ticklen=10, tickwidth=1.6, tickcolor="black", tickangle=-90)
    layout["xaxis" if n == 1 else f"xaxis{n}"] = dict(
        common, domain=[px(x0), px(x1)], anchor=ya,
        range=[math.log10(tickvals[0]), math.log10(tickvals[-1])],
        tickmode="array", tickvals=tickvals, ticktext=p["ticks"],
        tickfont=dict(family=FONT, size=15, color="black"), ticklabelstandoff=3)
    layout["yaxis" if n == 1 else f"yaxis{n}"] = dict(
        common, domain=[py(y1), py(y0)], anchor=xa, side="right",
        range=[math.log10(WL_RANGE[0]), math.log10(WL_RANGE[1])],
        tickmode="array", tickvals=WL_TICKS, ticktext=[str(t) for t in WL_TICKS],
        tickfont=dict(family=FONT, size=22, color="black"), ticklabelstandoff=0)

    xd, yd = f"{xa} domain", f"{ya} domain"
    labels = [
        (NAMES[i], 0.096, 25),
        ("\u03c7<sup>2</sup>/dof = " + CHI2[i], 0.202, 19),
        ("astro.sil.", 0.796, 19),
        ("(a=1.5\u03bcm)", 0.894, 16),
    ]
    for text, xpos, size in labels:
        annotations.append(dict(
            text=text, x=xpos, y=0.059, xref=xd, yref=yd, xanchor="center",
            yanchor="bottom", textangle=-90, showarrow=False,
            font=dict(family=FONT, size=size, color="black")))

# shared axis titles
for r in range(3):
    y0, y1 = ROW_Y[r]
    annotations.append(dict(
        text="Wavelength (\u03bcm)", x=px(935), y=py((y0 + y1) / 2), xref="paper", yref="paper",
        xanchor="center", yanchor="middle", textangle=-90, showarrow=False,
        font=dict(family=FONT, size=24, color="black")))
for c in range(3):
    x0, x1 = COL_X[c]
    annotations.append(dict(
        text="Flux Density (Jy)", x=px((x0 + x1) / 2), y=py(1390), xref="paper", yref="paper",
        xanchor="center", yanchor="middle", textangle=180, showarrow=False,
        font=dict(family=FONT, size=19, color="black")))

fig.update_layout(
    layout,
    width=W, height=H,
    margin=dict(l=0, r=0, t=0, b=0),
    paper_bgcolor="white", plot_bgcolor="white",
    showlegend=False,
    annotations=annotations,
)

fig.write_html("out.html")
